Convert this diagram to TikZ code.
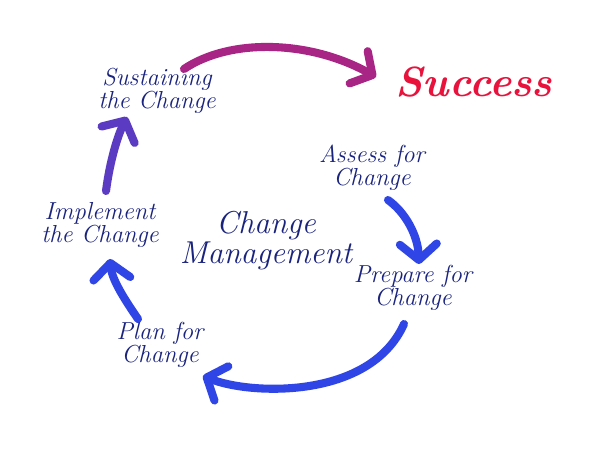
\documentclass[tikz,border=0pt]{standalone}
\usetikzlibrary{arrows.meta}
\definecolor{txt}{HTML}{1A237E}
\definecolor{arrblue}{HTML}{2F45E6}
\definecolor{arrpurple}{HTML}{5B3BC2}
\definecolor{arrmag}{HTML}{A82585}
\definecolor{succ}{HTML}{E8123C}
\tikzset{
  lbl/.style={text=txt, font=\itshape\fontsize{14}{13}\selectfont, align=center, inner sep=0pt},
  flow/.style={line width=4.6pt, line cap=round, draw=arrblue,
    -{Straight Barb[length=9pt,width=21pt,round]}},
}
\begin{document}
\begin{tikzpicture}[x=0.02cm,y=-0.02cm]
\fill[white] (0,0) rectangle (600,455);
\useasboundingbox (0,0) rectangle (600,455);
\node[lbl] (sus) at (157,91) {Sustaining\\the Change};
\node[text=succ, font=\bfseries\itshape\fontsize{24}{24}\selectfont, inner sep=0pt] (succ) at (474,82) {Success};
\node[lbl] (ass) at (372,168) {Assess for\\Change};
\node[lbl] (prep) at (413,288) {Prepare for\\Change};
\node[lbl, font=\itshape\fontsize{18}{17}\selectfont] (cm) at (266,241) {Change\\Management};
\node[lbl] (impl) at (100,225) {Implement\\the Change};
\node[lbl] (plan) at (160,345) {Plan for\\Change};
\coordinate (s1) at (184,69);
\coordinate (s2) at (376,77);
\coordinate (a1) at (388,200);
\coordinate (a2) at (419,264);
\coordinate (p1) at (404,324);
\coordinate (p2) at (203,376);
\coordinate (l1) at (138,319);
\coordinate (l2) at (110,259);
\coordinate (i1) at (106,191);
\coordinate (i2) at (127,117);
\draw[flow, draw=arrmag] (s1) .. controls (230,38) and (310,40) .. (s2);
\draw[flow] (a1) .. controls (405,212) and (418,235) .. (a2);
\draw[flow] (p1) .. controls (370,400) and (250,395) .. (p2);
\draw[flow] (l1) .. controls (125,300) and (112,280) .. (l2);
\draw[flow, draw=arrpurple] (i1) .. controls (110,160) and (118,135) .. (i2);
\end{tikzpicture}
\end{document}
